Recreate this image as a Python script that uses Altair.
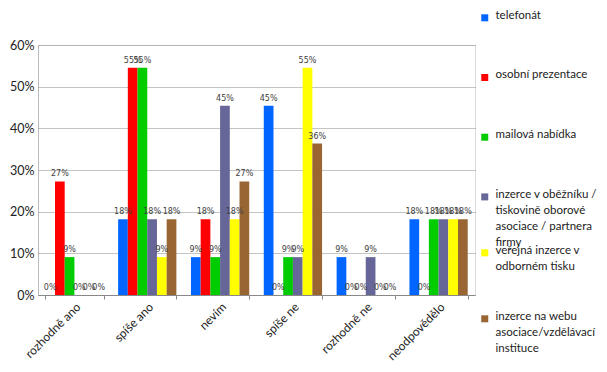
import json
import altair as alt
import pandas as pd

categories = ["rozhodně ano", "spíše ano", "nevím", "spíše ne", "rozhodně ne", "neodpovědělo"]
series = [
    "telefonát",
    "osobní prezentace",
    "mailová nabídka",
    "inzerce v oběžníku / tiskovině oborové asociace / partnera firmy",
    "veřejná inzerce v odborném tisku",
    "inzerce na webu asociace/vzdělávací instituce",
]
legend_lines = [
    ["telefonát"],
    ["osobní prezentace"],
    ["mailová nabídka"],
    ["inzerce v oběžníku /", "tiskovině oborové", "asociace / partnera", "firmy"],
    ["veřejná inzerce v", "odborném tisku"],
    ["inzerce na webu", "asociace/vzdělávací", "instituce"],
]
colors = ["#0066FF", "#FF0000", "#00CC00", "#666699", "#FFFF00", "#996633"]

telefonat = [0.0, 0.1818, 0.0909, 0.4545, 0.0909, 0.1818]
osobni = [0.2727, 0.5455, 0.1818, 0.0, 0.0, 0.0]
mailova = [0.0909, 0.5455, 0.0909, 0.0909, 0.0, 0.1818]
obeznik = [0.0, 0.1818, 0.4545, 0.0909, 0.0909, 0.1818]
verejna = [0.0, 0.0909, 0.1818, 0.5455, 0.0, 0.1818]
web = [0.0, 0.1818, 0.2727, 0.3636, 0.0, 0.1818]

values = [telefonat, osobni, mailova, obeznik, verejna, web]
rows = []
for s, vals in zip(series, values):
    for c, v in zip(categories, vals):
        rows.append({"kategorie": c, "serie": s, "hodnota": v})
df = pd.DataFrame(rows)

label_expr = ""
for s, lines in zip(series, legend_lines):
    label_expr += f"datum.label == '{s}' ? {json.dumps(lines, ensure_ascii=False)} : "
label_expr += "datum.label"

FONT = "Lato"

x_enc = alt.X(
    "kategorie:N",
    sort=categories,
    title=None,
    scale=alt.Scale(domain=categories, paddingInner=0.2, paddingOuter=0.1),
    axis=alt.Axis(
        labelAngle=-45,
        labelFont=FONT,
        labelFontSize=12,
        labelColor="#222222",
        domainColor="#888888",
        tickColor="#888888",
        tickBand="extent",
        tickSize=4,
        labelPadding=2,
    ),
)
xoff_enc = alt.XOffset("serie:N", sort=series, scale=alt.Scale(domain=series))
y_enc = alt.Y(
    "hodnota:Q",
    title=None,
    scale=alt.Scale(domain=[0, 0.6], nice=False),
    axis=alt.Axis(
        format=".0%",
        values=[0, 0.1, 0.2, 0.3, 0.4, 0.5, 0.6],
        labelFont=FONT,
        labelFontSize=12.5,
        labelColor="#222222",
        domainColor="#999999",
        domainDash=[1, 1],
        ticks=False,
        labelPadding=4,
        gridColor="#888888",
        gridDash=[1, 1],
        gridWidth=1,
    ),
)
color_scale = alt.Scale(domain=series, range=colors)


def legend(vals, y, pad):
    return alt.Legend(
        title=None,
        orient="none",
        legendX=441,
        legendY=y,
        columns=1,
        values=vals,
        rowPadding=pad,
        symbolType="M-1,1.3H1V3.3H-1Z",
        symbolSize=49,
        symbolStrokeWidth=0,
        symbolOpacity=1,
        labelBaseline="top",
        labelFont=FONT,
        labelFontSize=11.5,
        labelColor="#222222",
        labelLimit=200,
        labelOffset=5,
        labelExpr=label_expr,
    )


def bar_layer(subset, leg):
    return (
        alt.Chart(df)
        .transform_filter(alt.FieldOneOfPredicate(field="serie", oneOf=subset))
        .mark_bar()
        .encode(
            x=x_enc,
            xOffset=xoff_enc,
            y=y_enc,
            color=alt.Color("serie:N", sort=series, scale=color_scale, legend=leg),
        )
    )


bars_a = bar_layer(series[:4], legend(series[:4], -41, 41.7))
bars_b = bar_layer(series[4:], legend(series[4:], 194, 32))

texts = alt.Chart(df).mark_text(
    baseline="bottom", dy=-3, fontSize=8, font="DejaVu Sans", color="#404040"
).encode(
    x=alt.X("kategorie:N", sort=categories),
    xOffset=xoff_enc,
    y=alt.Y("hodnota:Q"),
    text=alt.Text("hodnota:Q", format=".0%"),
)

chart = (
    alt.layer(bars_a, bars_b, texts)
    .resolve_legend(color="independent")
    .properties(
        width=437,
        height=250,
        autosize=alt.AutoSizeParams(type="none"),
        padding={"left": 30, "top": 37, "right": 124, "bottom": 69},
        background="white",
    )
    .configure_view(stroke=None)
    .configure(style={"guide-label": {"lineHeight": 16}})
)

chart.save("out.html", embed_options={"renderer": "svg", "actions": False})
